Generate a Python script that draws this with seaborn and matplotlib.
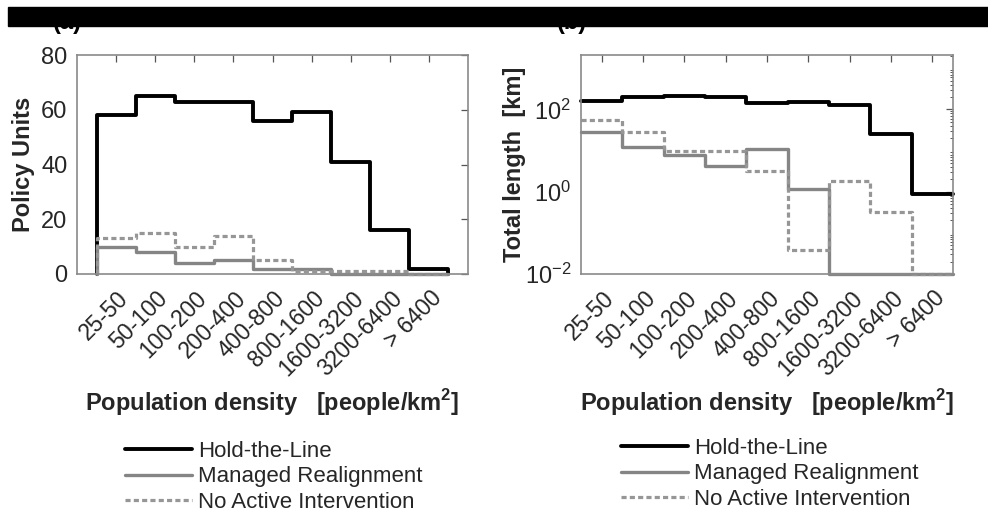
import numpy as np
import pandas as pd
import matplotlib
matplotlib.use("Agg")
import matplotlib.pyplot as plt
import matplotlib.transforms as mtransforms
import seaborn as sns
from matplotlib.patches import Rectangle
from matplotlib.ticker import LogLocator, NullFormatter

# Population density classes [people/km^2]
density_classes = ["25-50", "50-100", "100-200", "200-400", "400-800",
                   "800-1600", "1600-3200", "3200-6400", "> 6400"]

# (a) Number of policy units per density class
units_htl = [58, 65, 63, 63, 56, 59, 41, 16, 2]
units_mr = [10, 8, 4, 5, 2, 2, 0, 0, 0]
units_nai = [13, 15, 10, 14, 5, 1, 1, 1, 0]

# (b) Total shoreline length [km] per density class
length_htl = [160, 205, 215, 195, 140, 155, 125, 25, 0.9]
length_mr = [29, 12, 8, 4.2, 11, 1.15, 0, 0, 0]
length_nai = [55, 29, 10, 9.5, 3.2, 0.038, 1.85, 0.32, 0]

policies = ["Hold-the-Line", "Managed Realignment", "No Active Intervention"]

sns.set_theme(style="white")
plt.rcParams["font.family"] = ["Liberation Sans", "DejaVu Sans"]
plt.rcParams["mathtext.fontset"] = "custom"
plt.rcParams["mathtext.rm"] = "Liberation Sans"
plt.rcParams["mathtext.bf"] = "Liberation Sans:bold"

styles = {
    "Hold-the-Line": dict(color="black", lw=2.8, ls="-"),
    "Managed Realignment": dict(color="#858585", lw=2.4, ls="-"),
    "No Active Intervention": dict(color="#969696", lw=2.3, ls=(0, (1.6, 1.0))),
}

TICK_COLOR = "#262626"
SPINE_COLOR = "#8a8a8a"

fig = plt.figure(figsize=(9.88, 5.15), dpi=100)
ax_a = fig.add_axes([77 / 988, 1 - 274 / 515, 391 / 988, 219 / 515])
ax_b = fig.add_axes([581 / 988, 1 - 274 / 515, 372 / 988, 219 / 515])

pos = np.arange(1, len(density_classes) + 1)
edges = np.append(pos - 0.5, pos[-1] + 0.5)


def stair_frame(values, close=True, floor=0.0):
    v = np.maximum(np.asarray(values, dtype=float), floor)
    x = list(edges[:-1]) + [edges[-1]]
    y = list(v) + [v[-1]]
    if close:
        x = [edges[0]] + x + [edges[-1]]
        y = [floor] + y + [floor]
    return pd.DataFrame({"x": x, "y": y})


def draw(ax, series, close, floor):
    for name, vals in zip(policies, series):
        st = styles[name]
        df = stair_frame(vals, close=close, floor=floor)
        sns.lineplot(data=df, x="x", y="y", ax=ax, estimator=None, sort=False,
                     drawstyle="steps-post", color=st["color"], lw=st["lw"],
                     ls=st["ls"], clip_on=False, label=name, legend=False)


draw(ax_a, [units_htl, units_mr, units_nai], close=True, floor=0.0)
ax_a.set_xlim(0, 10)
ax_a.set_ylim(0, 80)
ax_a.set_yticks([0, 20, 40, 60, 80])

ax_b.set_yscale("log")
draw(ax_b, [length_htl, length_mr, length_nai], close=False, floor=0.01)
ax_b.set_xlim(0.5, 9.5)
ax_b.set_ylim(0.01, 2100)
ax_b.set_yticks([1e-2, 1e0, 1e2])
ax_b.yaxis.set_minor_locator(LogLocator(base=10, subs=np.arange(2, 10), numticks=20))
ax_b.yaxis.set_minor_formatter(NullFormatter())

shift_right = mtransforms.ScaledTranslation(9 / 100, 0, fig.dpi_scale_trans)

for ax, ylab, ylab_x in [(ax_a, "Policy Units", -0.138),
                         (ax_b, "Total length  [km]", -0.180)]:
    ax.set_xticks(pos)
    ax.set_xticklabels(density_classes, rotation=45, ha="right", va="center",
                       rotation_mode="anchor", fontsize=16.5, color=TICK_COLOR)
    ax.tick_params(axis="both", which="both", direction="in", top=True,
                   right=True, color="#555555", labelcolor=TICK_COLOR)
    ax.tick_params(axis="both", which="major", length=5, width=0.9)
    ax.tick_params(axis="y", which="major", labelsize=17, pad=7)
    ax.tick_params(axis="y", which="minor", length=2.5, width=0.7)
    ax.tick_params(axis="x", which="major", pad=15)
    # nudge the slanted category labels to the right of their ticks
    for tick in ax.xaxis.get_major_ticks():
        tick.label1.set_transform(tick.label1.get_transform() + shift_right)
    for sp in ax.spines.values():
        sp.set_color(SPINE_COLOR)
        sp.set_linewidth(1.2)
    ax.set_xlabel(r"Population density   [people/km$^\mathbf{2}$]",
                  fontsize=17, fontweight="bold", color="#262626", va="center")
    ax.xaxis.set_label_coords(0.5, (274 - 403) / 219)
    ax.set_ylabel(ylab, fontsize=17, fontweight="bold", color="#262626", va="center")
    ax.yaxis.set_label_coords(ylab_x, 0.5)

# Legends below each panel
for ax, anchor in [(ax_a, (125 / 988, 1 - 441 / 515)), (ax_b, (621 / 988, 1 - 438 / 515))]:
    handles = ax.get_lines()[:3]
    fig.legend(handles, policies, loc="upper left", bbox_to_anchor=anchor,
               frameon=False, fontsize=16, handlelength=3.0, handletextpad=0.28,
               labelspacing=0.2, borderpad=0, borderaxespad=0)

# Panel tags and the header band across the top
fig.text(53 / 988, 1 - 29 / 515, "(a)", fontsize=17, fontweight="bold",
         va="baseline", ha="left", color="black")
fig.text(557 / 988, 1 - 29 / 515, "(b)", fontsize=17, fontweight="bold",
         va="baseline", ha="left", color="black")
fig.patches.append(Rectangle((8 / 988, 1 - 26 / 515), 1, 19 / 515,
                             transform=fig.transFigure, color="black", zorder=10))

fig.savefig("out.png", dpi=100)
